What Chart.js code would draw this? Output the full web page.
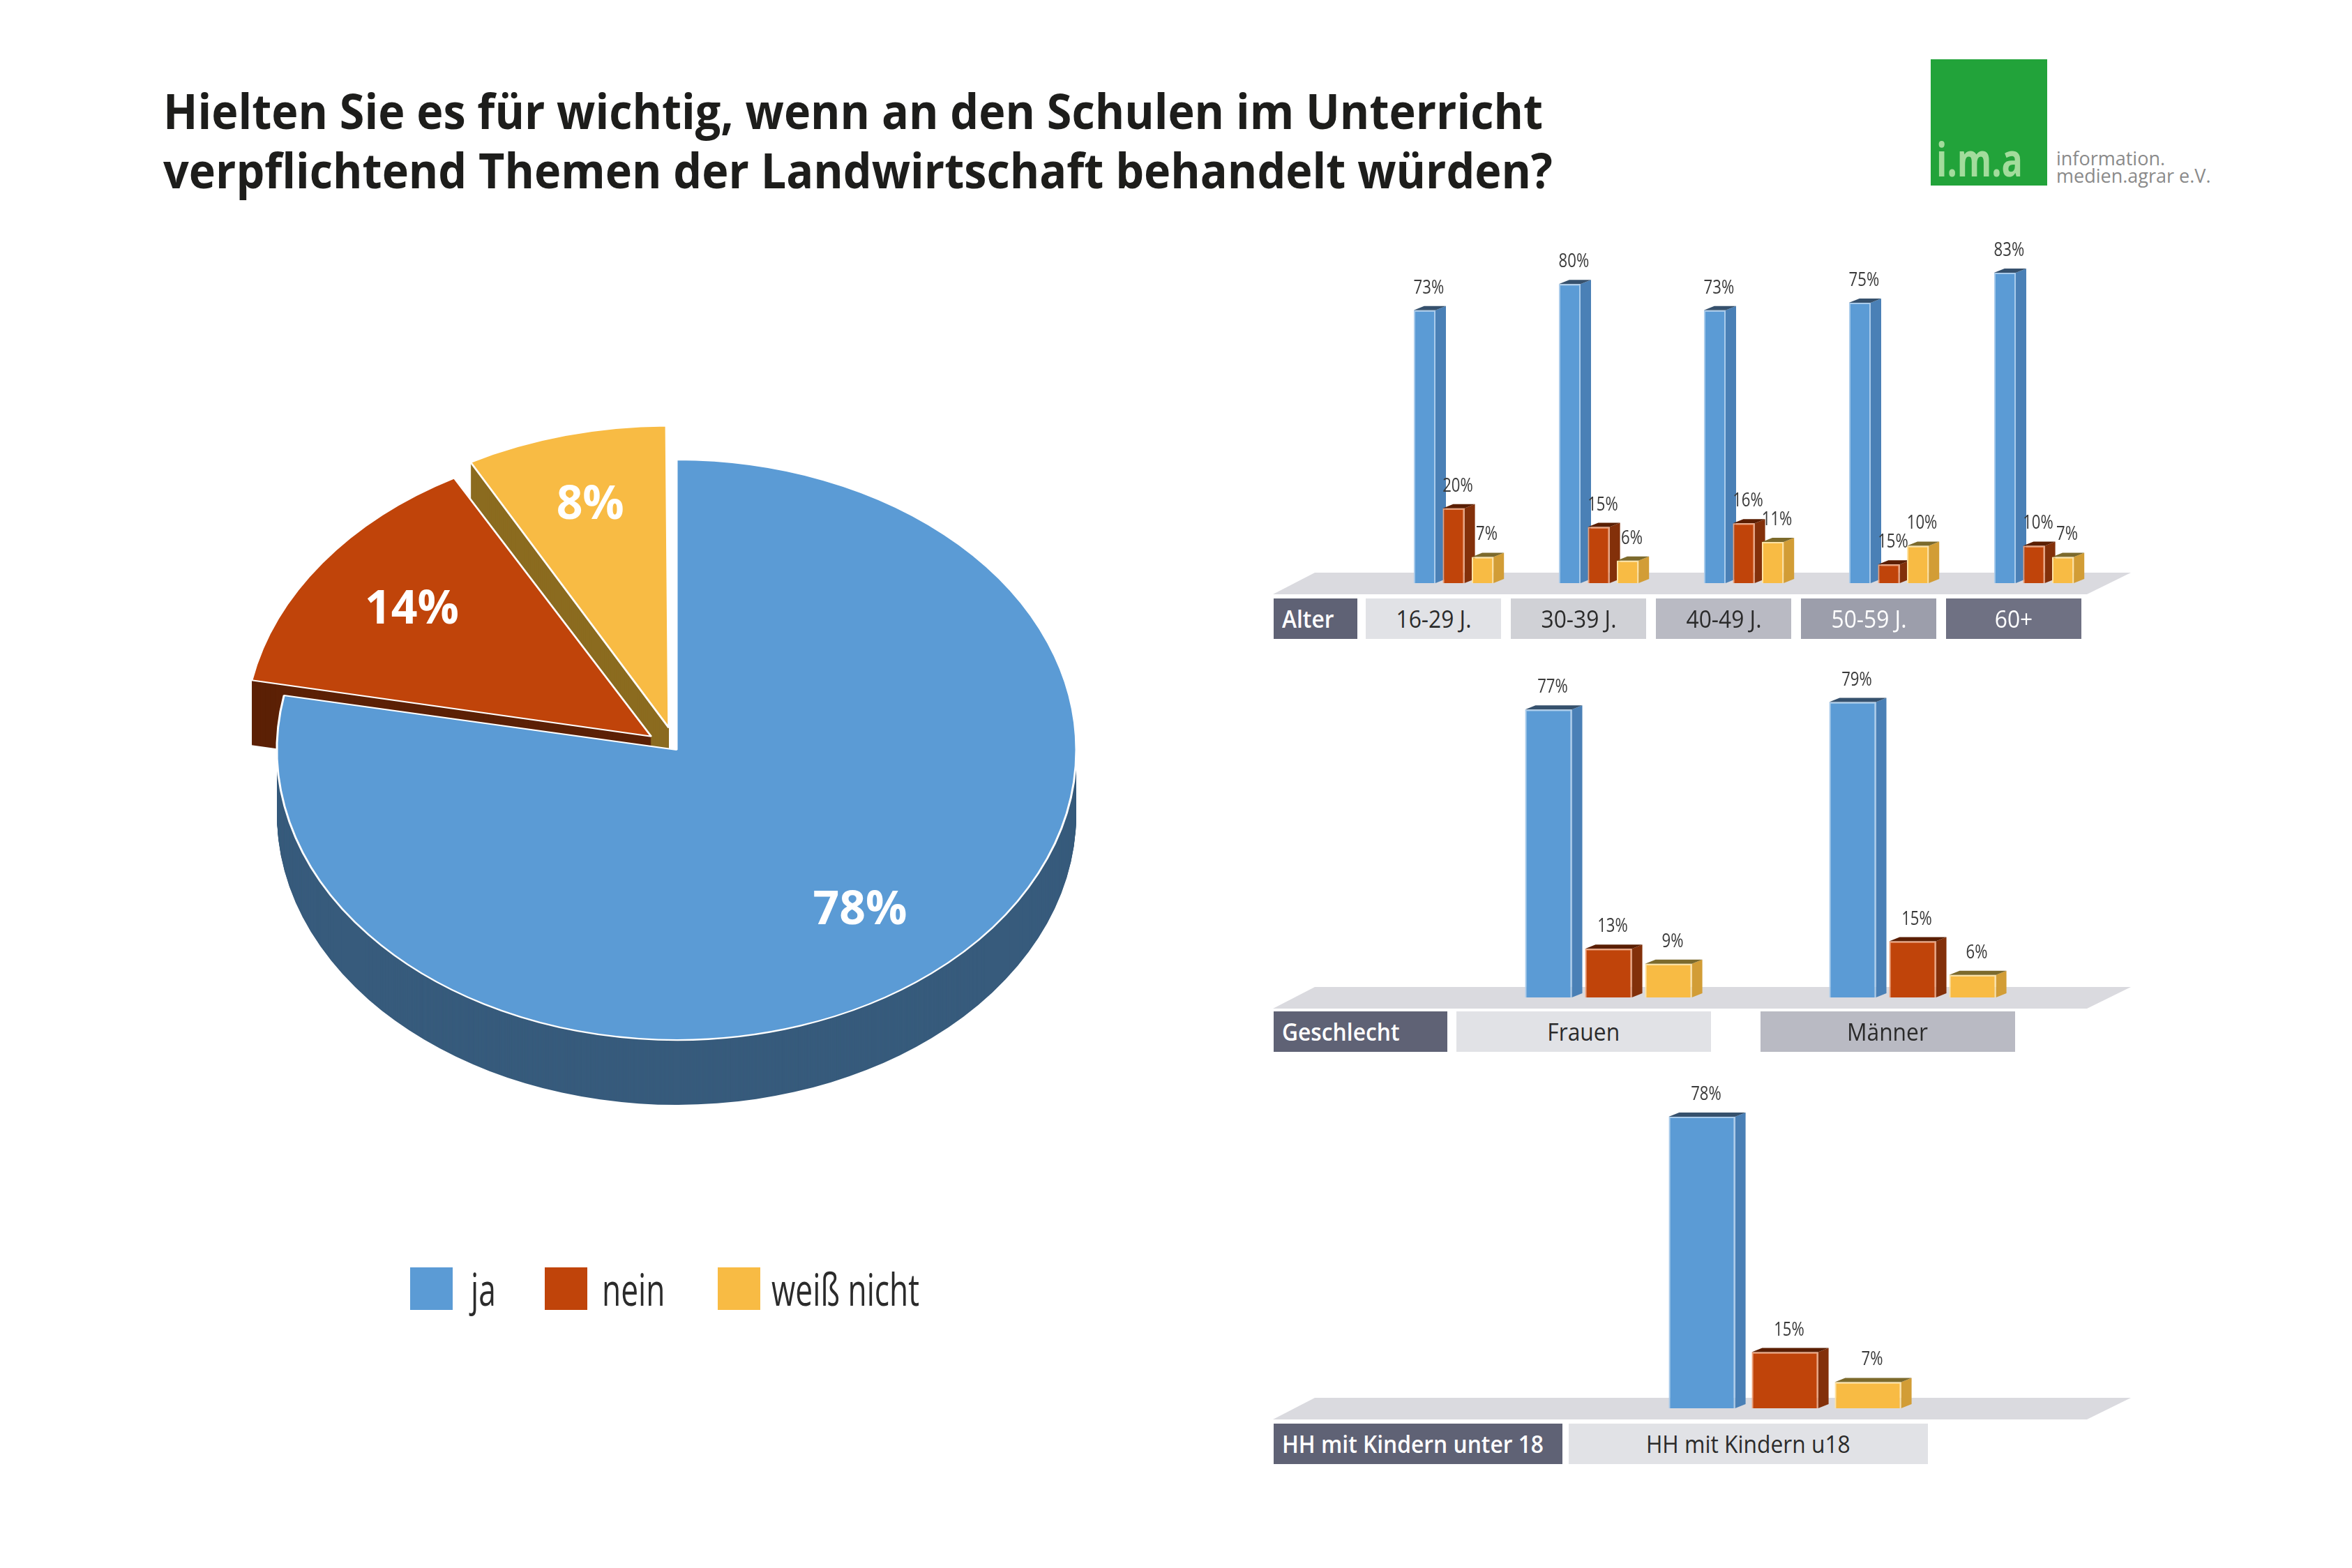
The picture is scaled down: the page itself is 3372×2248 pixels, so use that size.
<!DOCTYPE html>
<html lang="de">
<head>
<meta charset="utf-8">
<title>Landwirtschaft im Unterricht</title>
<script src="https://cdn.jsdelivr.net/npm/chart.js@4.4.1/dist/chart.umd.min.js"></script>
<style>
    html, body { margin: 0; padding: 0; background: #fff; }
    body { position: relative; width: 3372px; height: 2248px; overflow: hidden; font-family: 'Open Sans', sans-serif; }
    .abs { position: absolute; }
    .fit { display: inline-block; white-space: nowrap; transform-origin: 0 50%; }
    #title { left: 234px; top: 116px; font-size: 70px; line-height: 85px; font-weight: 700; color: #1d1d1b; white-space: nowrap; transform-origin: 0 0; }
    #logoBox { left: 2768px; top: 85px; width: 167px; height: 181px; background: #22a33a; }
    #logoIma { left: 2776px; top: 194px; font-size: 66px; line-height: 66px; font-weight: 700; color: #fff; }
    #logoIma span { color: #a3dc9c; }
    .logoTxt { left: 2948px; font-size: 27px; line-height: 27px; color: #8a8a8a; }
    .legBox { width: 61px; height: 61px; top: 1817px; }
    .legTxt { top: 1816px; font-size: 64px; line-height: 64px; color: #2b2b2b; }
    .catBox { height: 58px; line-height: 58px; font-size: 35px; text-align: center; overflow: visible; }
    .catBox .fit { transform-origin: 50% 50%; }
    .catHead { text-align: left; color: #fff; background: #5f6275; font-weight: 600; }
    .catHead .fit { transform-origin: 0 50%; margin-left: 12px; }
</style>
</head>
<body>

<div id="title" class="abs">Hielten Sie es für wichtig, wenn an den Schulen im Unterricht<br>verpflichtend Themen der Landwirtschaft behandelt würden?</div>

<div id="logoBox" class="abs"></div>
<div id="logoIma" class="abs"><span class="fit" id="imaTxt">i<span>.</span>m<span>.</span>a</span></div>
<div class="abs logoTxt" style="top:213px">information.</div>
<div class="abs logoTxt" style="top:238px">medien.agrar e.V.</div>

<div class="abs" style="left:300px; top:560px; width:1340px; height:1140px;"><canvas id="pieChart"></canvas></div>
<div id="legend"></div>

<div class="abs" style="left:1800px; top:290px; width:1400px; height:596px;"><canvas id="alterChart"></canvas></div>
<div class="abs" style="left:1800px; top:884px; width:1400px; height:596px;"><canvas id="geschlechtChart"></canvas></div>
<div class="abs" style="left:1800px; top:1473px; width:1400px; height:596px;"><canvas id="kinderChart"></canvas></div>
<div id="boxes"></div>

<script>
// ================================================
// DATA
// ================================================

const answerLabels = ['ja', 'nein', 'weiß nicht'];
const pieValues = [78, 14, 8];

const alterCats = ['16-29 J.', '30-39 J.', '40-49 J.', '50-59 J.', '60+'];
const alterJa = [73, 80, 73, 75, 83];
const alterNein = [20, 15, 16, 5, 10];
const alterNeinText = ['20%', '15%', '16%', '15%', '10%']; // printed label differs from bar at 50-59
const alterWeiss = [7, 6, 11, 10, 7];

const geschlechtCats = ['Frauen', 'Männer'];
const geschlechtJa = [77, 79];
const geschlechtNein = [13, 15];
const geschlechtWeiss = [9, 6];

const kinderCats = ['HH mit Kindern u18'];
const kinderJa = [78];
const kinderNein = [15];
const kinderWeiss = [7];

// ================================================
// COLOURS
// ================================================

const FRONT = ['#5b9bd5', '#c0440a', '#f8bb44'];
const EDGE = ['#a9cbeb', '#f0a078', '#fde3a5'];
const SIDE = ['#4a80b6', '#83300a', '#d29d36'];
const TOP = ['#36516d', '#5a1e02', '#7c6a2c'];
const PIE_SIDE = ['#375b7c', '#5c2106', '#8b6b1f'];

Chart.defaults.font.family = "'Open Sans', sans-serif";

// measure natural text width, used to squeeze Open Sans to the condensed look
const measureCtx = document.createElement('canvas').getContext('2d');
function textWidth(txt, font) {
    measureCtx.font = font;
    return measureCtx.measureText(txt).width;
}

// ================================================
// PIE (squashed + extruded to look 3D)
// ================================================

const PIE_K = 0.726;     // vertical squash
const PIE_DEPTH = 93;    // side height
const PIE_CY = 515;      // screen centre y inside canvas
const PIE_LABEL_R = [0.72, 0.74, 0.79];

const pie3d = {
    id: 'pie3d',
    beforeDatasetsDraw(chart) {
        const ctx = chart.ctx;
        const arcs = chart.getDatasetMeta(0).data;
        const cx = arcs[0].x, cy = arcs[0].y;
        const squash = () => {
            ctx.translate(cx, PIE_CY);
            ctx.scale(1, PIE_K);
            ctx.translate(-cx, -cy);
        };
        // side walls: same arcs, darker, stacked downwards
        for (let d = PIE_DEPTH; d > 0; d--) {
            ctx.save();
            ctx.translate(0, d);
            squash();
            for (let i = arcs.length - 1; i >= 0; i--) {
                const ghost = Object.create(arcs[i]);
                ghost.options = Object.assign({}, arcs[i].options, { backgroundColor: PIE_SIDE[i], borderWidth: 0 });
                ghost.draw(ctx);
            }
            ctx.restore();
        }
        ctx.save();
        squash();
    },
    afterDatasetsDraw(chart) {
        const ctx = chart.ctx;
        ctx.restore();
        const arcs = chart.getDatasetMeta(0).data;
        ctx.save();
        ctx.fillStyle = '#fff';
        ctx.font = "700 66px 'Open Sans'";
        ctx.textAlign = 'center';
        ctx.textBaseline = 'middle';
        arcs.forEach((arc, i) => {
            const mid = (arc.startAngle + arc.endAngle) / 2;
            const r = arc.outerRadius * PIE_LABEL_R[i] + (arc.options.offset || 0) / 4;
            ctx.fillText(chart.data.datasets[0].data[i] + '%', arc.x + Math.cos(mid) * r, PIE_CY + Math.sin(mid) * r * PIE_K);
        });
        ctx.restore();
    }
};

new Chart(document.getElementById('pieChart'), {
    type: 'pie',
    data: {
        labels: answerLabels,
        datasets: [{
            data: pieValues,
            backgroundColor: FRONT,
            borderColor: '#ffffff',
            borderWidth: 3,
            offset: [0, 180, 180],
            radius: 573
        }]
    },
    options: {
        responsive: true,
        maintainAspectRatio: false,
        animation: false,
        plugins: { legend: { display: false }, tooltip: { enabled: false } }
    },
    plugins: [pie3d]
});

// legend
(function buildLegend() {
    const legend = document.getElementById('legend');
    const boxX = [588, 781, 1029];
    const textX = [675, 863, 1106];
    const squeeze = 212 / textWidth('weiß nicht', "64px 'Open Sans'");
    answerLabels.forEach((lbl, i) => {
        const b = document.createElement('div');
        b.className = 'abs legBox';
        b.style.left = boxX[i] + 'px';
        b.style.background = FRONT[i];
        legend.appendChild(b);
        const t = document.createElement('div');
        t.className = 'abs legTxt';
        t.style.left = textX[i] + 'px';
        t.innerHTML = '<span class="fit" style="transform:scaleX(' + squeeze + ')">' + lbl + '</span>';
        legend.appendChild(t);
    });
})();

// ================================================
// 3D BAR PANELS
// ================================================

const DX = 15, DY = 6;

const bars3d = {
    id: 'bars3d',
    beforeDatasetsDraw(chart) {
        const ctx = chart.ctx;
        const base = chart.scales.y.getPixelForValue(0);
        ctx.save();
        // floor
        ctx.fillStyle = '#dadadf';
        ctx.beginPath();
        ctx.moveTo(85, base - 15);
        ctx.lineTo(1255, base - 15);
        ctx.lineTo(1192, base + 16);
        ctx.lineTo(25, base + 16);
        ctx.closePath();
        ctx.fill();
        // side + top faces behind each front
        chart.data.datasets.forEach((ds, i) => {
            chart.getDatasetMeta(i).data.forEach(bar => {
                const l = bar.x - bar.width / 2, r = bar.x + bar.width / 2;
                const t = bar.y, b = bar.base;
                ctx.fillStyle = SIDE[i];
                ctx.beginPath();
                ctx.moveTo(r, t); ctx.lineTo(r + DX, t - DY); ctx.lineTo(r + DX, b - DY); ctx.lineTo(r, b);
                ctx.closePath(); ctx.fill();
                ctx.fillStyle = TOP[i];
                ctx.beginPath();
                ctx.moveTo(l, t); ctx.lineTo(l + DX, t - DY); ctx.lineTo(r + DX, t - DY); ctx.lineTo(r, t);
                ctx.closePath(); ctx.fill();
            });
        });
        ctx.restore();
    },
    afterDatasetsDraw(chart) {
        const ctx = chart.ctx;
        ctx.save();
        ctx.fillStyle = '#3a3a3a';
        ctx.font = "27px 'Open Sans'";
        ctx.textAlign = 'center';
        ctx.textBaseline = 'alphabetic';
        chart.data.datasets.forEach((ds, i) => {
            chart.getDatasetMeta(i).data.forEach((bar, j) => {
                const txt = ds.texts ? ds.texts[j] : ds.data[j] + '%';
                ctx.save();
                ctx.translate(bar.x + 6, bar.y - 24);
                ctx.scale(0.82, 1);
                ctx.fillText(txt, 0, 0);
                ctx.restore();
            });
        });
        ctx.restore();
    }
};

function makePanel(id, cats, series, layout) {
    return new Chart(document.getElementById(id), {
        type: 'bar',
        data: {
            labels: cats,
            datasets: series.map((s, i) => ({
                label: answerLabels[i],
                data: s.values,
                texts: s.texts,
                backgroundColor: FRONT[i],
                borderColor: EDGE[i],
                borderWidth: 2,
                categoryPercentage: layout.cat,
                barPercentage: layout.bar
            }))
        },
        options: {
            responsive: true,
            maintainAspectRatio: false,
            animation: false,
            layout: { padding: { left: layout.padL, right: layout.padR, top: 10, bottom: 50 } },
            scales: {
                x: { display: false },
                y: { display: false, min: 0, max: 100 }
            },
            plugins: { legend: { display: false }, tooltip: { enabled: false } }
        },
        plugins: [bars3d]
    });
}

const alterChart = makePanel('alterChart', alterCats,
    [{ values: alterJa }, { values: alterNein, texts: alterNeinText }, { values: alterWeiss }],
    { padL: 180, padR: 180, cat: 0.6, bar: 0.75 });
const geschlechtChart = makePanel('geschlechtChart', geschlechtCats,
    [{ values: geschlechtJa }, { values: geschlechtNein }, { values: geschlechtWeiss }],
    { padL: 288, padR: 240, cat: 0.592, bar: 0.78 });
const kinderChart = makePanel('kinderChart', kinderCats,
    [{ values: kinderJa }, { values: kinderNein }, { values: kinderWeiss }],
    { padL: 459, padR: 341, cat: 0.595, bar: 0.8 });

// ================================================
// CATEGORY BOXES UNDER THE PANELS
// ================================================

const boxSqueeze = 108 / textWidth('16-29 J.', "35px 'Open Sans'");

function addBoxes(chart, head, top, shift, width, fills, inks) {
    const holder = document.getElementById('boxes');
    const h = document.createElement('div');
    h.className = 'abs catBox catHead';
    h.style.cssText += 'left:1826px;top:' + top + 'px;width:' + head.width + 'px;';
    h.innerHTML = '<span class="fit" style="transform:scaleX(' + boxSqueeze + ')">' + head.text + '</span>';
    holder.appendChild(h);
    chart.data.labels.forEach((lbl, i) => {
        const cx = 1800 + chart.scales.x.getPixelForValue(i) + shift;
        const b = document.createElement('div');
        b.className = 'abs catBox';
        b.style.cssText += 'left:' + (cx - width / 2) + 'px;top:' + top + 'px;width:' + width + 'px;background:' + fills[i] + ';color:' + inks[i] + ';';
        b.innerHTML = '<span class="fit" style="transform:scaleX(' + boxSqueeze + ')">' + lbl + '</span>';
        holder.appendChild(b);
    });
}

addBoxes(alterChart, { text: 'Alter', width: 120 }, 858, -29, 194,
    ['#e1e2e6', '#d0d1d6', '#b9bac3', '#9c9eab', '#6f7183'],
    ['#2b2b2b', '#2b2b2b', '#2b2b2b', '#ffffff', '#ffffff']);
addBoxes(geschlechtChart, { text: 'Geschlecht', width: 249 }, 1450, -36, 365,
    ['#e1e2e6', '#b9bac3'], ['#2b2b2b', '#2b2b2b']);
addBoxes(kinderChart, { text: 'HH mit Kindern unter 18', width: 414 }, 2041, -53, 515,
    ['#e1e2e6'], ['#2b2b2b']);

// ================================================
// TITLE + LOGO SQUEEZE
// ================================================

const titleScale = 1978 / textWidth('Hielten Sie es für wichtig, wenn an den Schulen im Unterricht', "700 70px 'Open Sans'");
document.getElementById('title').style.transform = 'scaleX(' + titleScale + ')';
document.getElementById('imaTxt').style.transform = 'scaleX(' + (124 / textWidth('i.m.a', "700 66px 'Open Sans'")) + ')';
</script>
</body>
</html>
